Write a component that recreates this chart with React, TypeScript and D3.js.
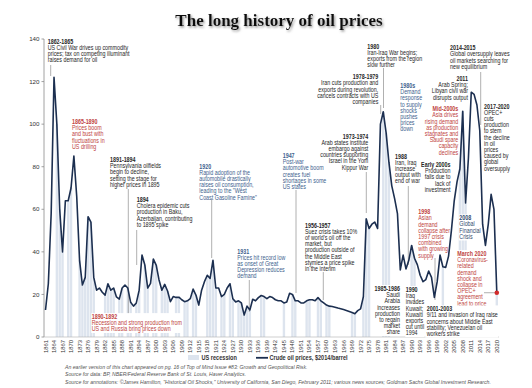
import React, { useEffect, useRef } from "react";
import * as d3 from "d3";

// annual crude price, $2014/barrel, 1861..2020
const firstYear = 1861;
const prices = [
  12.7, 25, 58, 122, 100, 60, 40, 64, 64, 70,
  85, 66, 36, 24.4, 28, 56.5, 54, 28, 22, 23,
  21, 19.7, 25, 22, 23, 18.8, 17.8, 23, 24.4, 23,
  16.3, 14.5, 16, 22, 38.5, 33.8, 23, 25.2, 36.6, 33.8,
  26.8, 22, 24.7, 21.6, 16.6, 19, 18.6, 18.7, 17.5, 16.6,
  17, 18, 22.5, 19.7, 15, 22, 26, 29, 27.5, 36,
  23, 23, 19, 20, 23, 25, 18, 16.5, 17, 16,
  10.3, 14.5, 12.7, 17.7, 17, 18.5, 19.5, 19, 18, 19,
  18.5, 17.5, 17, 17, 16, 16.5, 20.5, 20, 17, 17,
  16, 16, 17, 17.5, 17.5, 17, 18.5, 17, 16, 15,
  14.5, 14.3, 14, 13.6, 13.3, 12.9, 12.5, 12, 11.5, 10.9,
  12.4, 13.2, 19, 55.5, 51, 53, 54, 51, 100, 105.8,
  96, 82, 71, 65, 58, 31.5, 38.5, 32, 36, 43,
  37, 34, 29, 26, 27, 31, 28, 18.6, 26, 38.5,
  33, 32.7, 38, 50, 64, 73, 79, 106, 63, 84,
  115, 114, 109, 97, 53, 43, 53, 67, 60, 20.8,
];
const years = prices.map((_, i) => firstYear + i);

const recessionYears = [
  1865, 1866, 1867, 1869, 1870, 1873, 1874, 1875, 1876, 1877, 1878,
  1882, 1883, 1884, 1885, 1887, 1888, 1890, 1891, 1893, 1894, 1896,
  1897, 1899, 1900, 1902, 1903, 1904, 1907, 1908, 1910, 1911, 1913,
  1914, 1918, 1919, 1920, 1921, 1923, 1924, 1926, 1927, 1929, 1930,
  1931, 1932, 1933, 1937, 1938, 1945, 1948, 1949, 1953, 1954, 1957,
  1958, 1960, 1961, 1969, 1970, 1973, 1974, 1975, 1980, 1981, 1982,
  1990, 1991, 2001, 2007, 2008, 2009, 2020,
];

const tickYears = years.filter((y) => (y - firstYear) % 3 === 0);
const yTicks = [0, 20, 40, 60, 80, 100, 120, 140];

const DARK = "#262626";
const RED = "#c0433e";
const BLUE = "#3e5f8e";
const SLATE = "#2f4a6e";
const NAVY = "#1c2f50";
const BAR = "#dde4ee";
const LEAD = "#9c9c9c";

// text boxes: x, y = baseline of first line
const notes = [
  { x: 47.7, y: 43.7, a: "start", c: DARK, lines: ["1862-1865", "US Civil War drives up commodity", "prices; tax on competing illuminant", "raises demand for oil"] },
  { x: 72, y: 124, a: "start", c: RED, lines: ["1865-1890", "Prices boom", "and bust with", "fluctuations in", "US drilling"] },
  { x: 110, y: 162, a: "start", c: DARK, lines: ["1891-1894", "Pennsylvania oilfields", "begin to decline,", "setting the stage for", "higher prices in 1895"] },
  { x: 136.7, y: 202, a: "start", c: DARK, lines: ["1894", "Cholera epidemic cuts", "production in Baku,", "Azerbaijan, contributing", "to 1895 spike"] },
  { x: 91.7, y: 319, a: "start", c: RED, bg: true, lines: ["1890-1892", "Recession and strong production from", "US and Russia bring prices down"] },
  { x: 199.3, y: 168.7, a: "start", c: BLUE, lines: ["1920", "Rapid adoption of the", "automobile drastically", "raises oil consumption,", "leading to the \"West", "Coast Gasoline Famine\""] },
  { x: 282.7, y: 158, a: "start", c: BLUE, lines: ["1947", "Post-war", "automotive boom", "creates fuel", "shortages in some", "US states"] },
  { x: 237.3, y: 253.7, a: "start", c: BLUE, lines: ["1931", "Prices hit record low", "as onset of Great", "Depression reduces", "demand"] },
  { x: 305, y: 227.7, a: "start", c: DARK, lines: ["1956-1957", "Suez crisis takes 10%", "of world's oil off the", "market, but", "production outside of", "the Middle East", "stymies a price spike", "in the interim"] },
  { x: 368.3, y: 138.7, a: "end", c: DARK, lines: ["1973-1974", "Arab states institute", "embargo against", "countries supporting", "Israel in the Yom", "Kippur War"] },
  { x: 378.3, y: 79.3, a: "end", c: DARK, lines: ["1978-1979", "Iran cuts production and", "exports during revolution,", "cancels contracts with US", "companies"] },
  { x: 367.3, y: 48.7, a: "start", c: DARK, lines: ["1980", "Iran-Iraq War begins;", "exports from the region", "slow further"] },
  { x: 400.3, y: 88, a: "start", c: BLUE, lines: ["1980s", "Demand", "response", "to supply", "shocks", "pushes", "prices", "down"] },
  { x: 400, y: 291, a: "end", c: DARK, bg: true, lines: ["1985-1986", "Saudi", "Arabia", "increases", "production", "to regain", "market", "share"] },
  { x: 395, y: 158.7, a: "start", c: DARK, lines: ["1988", "Iran, Iraq", "increase", "output with", "end of war"] },
  { x: 405.7, y: 292, a: "start", c: DARK, bg: true, lines: ["1990", "Iraq", "invades", "Kuwait;", "Kuwaiti", "exports", "cut until", "1994"] },
  { x: 450.5, y: 167, a: "end", c: DARK, lines: ["Early 2000s", "Production", "falls due to", "lack of", "investment"] },
  { x: 458.3, y: 111.3, a: "end", c: RED, lines: ["Mid-2000s", "Asia drives", "rising demand", "as production", "stagnates and", "Saudi spare", "capacity", "declines"] },
  { x: 468, y: 81, a: "end", c: DARK, lines: ["2011", "Arab Spring;", "Libyan civil war", "disrupts output"] },
  { x: 450, y: 50.3, a: "start", c: DARK, lines: ["2014-2015", "Global oversupply leaves", "oil markets searching for", "new equilibrium"] },
  { x: 484, y: 108.7, a: "start", c: DARK, lines: ["2017-2020", "OPEC+", "cuts", "production", "to stem", "the decline", "in oil", "prices", "caused by", "global", "oversupply"] },
  { x: 459.3, y: 220.3, a: "start", c: SLATE, bg: true, lines: ["2008", "Global", "Financial", "Crisis"] },
  { x: 418.3, y: 214.3, a: "start", c: RED, lines: ["1998", "Asian", "demand", "collapse after", "1997 crisis", "combined", "with growing", "supply"] },
  { x: 457.3, y: 256, a: "start", c: RED, bg: true, lines: ["March 2020", "Coronavirus-", "related", "demand", "shock and", "collapse in", "OPEC+", "agreement", "lead to price", "collapse"] },
  { x: 426.7, y: 311.3, a: "start", c: DARK, bg: true, lines: ["2001-2003", "9/11 and invasion of Iraq raise", "concerns about Middle East", "stability; Venezuelan oil", "workers strike"] },
];

// vertical pointer lines: x, y1, y2
const leaders = [
  [50.7, 65, 76], [128.3, 189, 318], [136.7, 230, 265], [211.7, 199, 258],
  [296, 190, 293], [249.3, 280, 312], [323.3, 272, 300], [366.3, 172, 213],
  [380.7, 105, 114], [383.5, 68, 108], [408.3, 186, 265], [480.7, 72, 125],
  [435, 258, 300],
];

const footnotes = [
  "An earlier version of this chart appeared on pg. 16 of Top of Mind Issue #83: Growth and Geopolitical Risk.",
  "Source for data: BP, NBER/Federal Reserve Bank of St. Louis, Haver Analytics.",
  "Source for annotations: \u00a9James Hamilton, \"Historical Oil Shocks,\" University of California, San Diego, February 2011; various news sources; Goldman Sachs Global Investment Research.",
];

const FONT = "'Liberation Sans', Arial, sans-serif";
const SQUEEZE = 0.85; // fake a narrow face

const OilChart = () => {
  const ref = useRef(null);

  useEffect(() => {
    const root = d3.select(ref.current);
    root.selectAll("*").remove();

    const width = 532,
      height = 388;

    const svg = root
      .append("svg")
      .attr("width", width)
      .attr("height", height)
      .style("position", "absolute")
      .style("left", 0)
      .style("top", 0)
      .style("background", "#fff");

    const x = d3.scaleLinear().domain([1861, 2020]).range([45.5, 496.8]);
    const y = d3.scaleLinear().domain([0, 140]).range([337, 39]);
    const step = x(1862) - x(1861);

    // title with soft shadow
    const defs = svg.append("defs");
    defs
      .append("filter")
      .attr("id", "shadow")
      .attr("x", "-10%")
      .attr("y", "-30%")
      .attr("width", "120%")
      .attr("height", "160%")
      .append("feDropShadow")
      .attr("dx", 1.2)
      .attr("dy", 1.5)
      .attr("stdDeviation", 0.9)
      .attr("flood-color", "#777")
      .attr("flood-opacity", 0.8);

    svg
      .append("text")
      .attr("x", 279)
      .attr("y", 26.3)
      .attr("text-anchor", "middle")
      .attr("font-family", "'Liberation Serif', 'Times New Roman', serif")
      .attr("font-weight", "bold")
      .attr("font-size", 17)
      .attr("fill", "#111")
      .attr("filter", "url(#shadow)")
      .text("The long history of oil prices");

    // recession columns
    const priceOf = new Map(years.map((yr, i) => [yr, prices[i]]));
    svg
      .selectAll("rect.rec")
      .data(recessionYears)
      .join("rect")
      .attr("class", "rec")
      .attr("x", (d) => x(d) - step * 0.42)
      .attr("width", step * 0.84)
      .attr("y", (d) => y(priceOf.get(d)))
      .attr("height", (d) => y(0) - y(priceOf.get(d)))
      .attr("fill", BAR);

    // y axis
    svg
      .append("line")
      .attr("x1", 44)
      .attr("x2", 44)
      .attr("y1", y(140))
      .attr("y2", y(0))
      .attr("stroke", "#8c8c8c")
      .attr("stroke-width", 0.8);
    svg
      .selectAll("line.ytick")
      .data(yTicks)
      .join("line")
      .attr("class", "ytick")
      .attr("x1", 41.5)
      .attr("x2", 44)
      .attr("y1", (d) => y(d))
      .attr("y2", (d) => y(d))
      .attr("stroke", "#8c8c8c")
      .attr("stroke-width", 0.8);
    svg
      .selectAll("text.ylab")
      .data(yTicks)
      .join("text")
      .attr("class", "ylab")
      .attr("x", 39.5)
      .attr("y", (d) => y(d) + 2.2)
      .attr("text-anchor", "end")
      .attr("font-family", FONT)
      .attr("font-size", 6.2)
      .attr("fill", "#333")
      .text((d) => d);

    // x axis
    svg
      .append("line")
      .attr("x1", 44)
      .attr("x2", 499)
      .attr("y1", y(0))
      .attr("y2", y(0))
      .attr("stroke", "#b0b0b0")
      .attr("stroke-width", 0.6);
    svg
      .selectAll("text.xlab")
      .data(tickYears)
      .join("text")
      .attr("class", "xlab")
      .attr("transform", (d) => `translate(${x(d) + 2},${y(0) + 3}) rotate(-90)`)
      .attr("text-anchor", "end")
      .attr("font-family", FONT)
      .attr("font-size", 5.8)
      .attr("fill", "#333")
      .text((d) => d);

    // leader lines
    svg
      .selectAll("line.lead")
      .data(leaders)
      .join("line")
      .attr("class", "lead")
      .attr("x1", (d) => d[0])
      .attr("x2", (d) => d[0])
      .attr("y1", (d) => d[1])
      .attr("y2", (d) => d[2])
      .attr("stroke", LEAD)
      .attr("stroke-width", 0.8);

    // annotations
    const lh = 6.2;
    notes.forEach((n) => {
      const g = svg
        .append("g")
        .attr("transform", `translate(${n.x},${n.y}) scale(${SQUEEZE},1)`);
      const bgRect = g.append("rect").attr("fill", "#fff");
      const t = g
        .append("text")
        .attr("font-family", FONT)
        .attr("font-size", 6.3)
        .attr("fill", n.c)
        .attr("text-anchor", n.a);
      n.lines.forEach((ln, i) => {
        t.append("tspan")
          .attr("x", 0)
          .attr("y", i * lh)
          .attr("font-weight", i === 0 ? "bold" : "normal")
          .text(ln);
      });
      if (n.bg) {
        const b = t.node().getBBox();
        bgRect
          .attr("x", b.x - 0.5)
          .attr("y", b.y - 0.5)
          .attr("width", b.width + 1)
          .attr("height", b.height + 1);
      } else {
        bgRect.remove();
      }
    });

    // price line
    const line = d3
      .line()
      .x((d, i) => x(years[i]))
      .y((d) => y(d));
    svg
      .append("path")
      .datum(prices)
      .attr("d", line)
      .attr("fill", "none")
      .attr("stroke", NAVY)
      .attr("stroke-width", 1.6)
      .attr("stroke-linejoin", "round");

    // March 2020 marker
    const last = prices[prices.length - 1];
    svg
      .append("line")
      .attr("x1", 484)
      .attr("x2", x(2020))
      .attr("y1", y(last))
      .attr("y2", y(last))
      .attr("stroke", LEAD)
      .attr("stroke-width", 0.8);
    svg
      .append("circle")
      .attr("cx", x(2020))
      .attr("cy", y(last))
      .attr("r", 2.3)
      .attr("fill", "#d12b2b");

    // legend
    svg
      .append("rect")
      .attr("x", 188)
      .attr("y", 355)
      .attr("width", 11)
      .attr("height", 5)
      .attr("fill", BAR);
    svg
      .append("text")
      .attr("transform", `translate(201.5,360) scale(${SQUEEZE},1)`)
      .attr("font-family", FONT)
      .attr("font-weight", "bold")
      .attr("font-size", 6.6)
      .attr("fill", "#333")
      .text("US recession");
    svg
      .append("line")
      .attr("x1", 256)
      .attr("x2", 268)
      .attr("y1", 357.8)
      .attr("y2", 357.8)
      .attr("stroke", NAVY)
      .attr("stroke-width", 1.8);
    svg
      .append("text")
      .attr("transform", `translate(269.5,360) scale(${SQUEEZE},1)`)
      .attr("font-family", FONT)
      .attr("font-weight", "bold")
      .attr("font-size", 6.6)
      .attr("fill", "#333")
      .text("Crude oil prices, $2014/barrel");

    // footnotes
    svg
      .selectAll("text.foot")
      .data(footnotes)
      .join("text")
      .attr("class", "foot")
      .attr("transform", (d, i) => `translate(65,${368.5 + i * 7.5}) scale(0.92,1)`)
      .attr("font-family", FONT)
      .attr("font-style", "italic")
      .attr("font-size", 5.6)
      .attr("fill", "#555")
      .text((d) => d);

    return () => {
      // eslint-disable-next-line
      d3.select(ref.current).selectAll("*").remove();
    };
  }, []);

  return <div ref={ref} />;
};

export default function App() {
  return <OilChart />;
}
